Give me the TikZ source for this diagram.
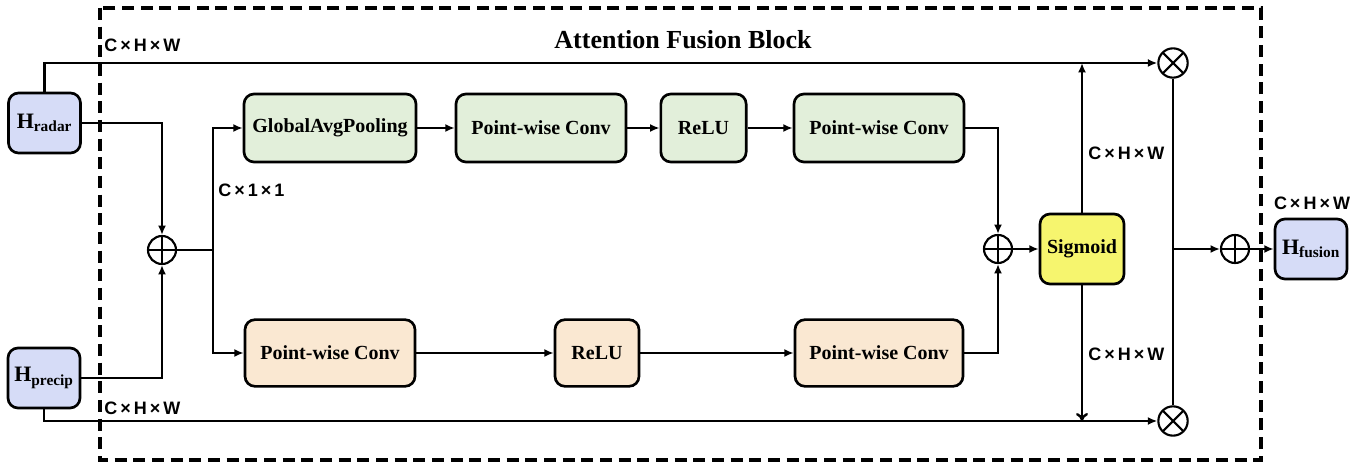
\documentclass[tikz,border=0pt]{standalone}
\usepackage{fontspec}
\setmainfont{Liberation Serif}
\setsansfont{Liberation Sans}
\usetikzlibrary{arrows.meta}
\definecolor{featblue}{RGB}{214,220,247}
\definecolor{gapgreen}{RGB}{226,239,218}
\definecolor{convpeach}{RGB}{250,232,210}
\definecolor{sigyellow}{RGB}{246,245,110}
\tikzset{
  blk/.style={draw, line width=2pt, rounded corners=7.5pt, inner sep=0pt,
    font=\fontsize{15}{18}\selectfont\bfseries},
  feat/.style={blk, fill=featblue, minimum width=54pt, minimum height=45pt,
    font=\fontsize{16.5}{18}\selectfont\bfseries},
  gapbox/.style={blk, fill=gapgreen, minimum height=51pt},
  convbox/.style={blk, fill=convpeach, minimum height=50pt},
  opsum/.style={circle, draw, line width=1.6pt, minimum size=21pt, inner sep=0pt,
    path picture={\draw[line width=1.6pt] (path picture bounding box.north) -- (path picture bounding box.south)
      (path picture bounding box.west) -- (path picture bounding box.east);}},
  opmul/.style={circle, draw, line width=1.6pt, minimum size=22pt, inner sep=0pt,
    path picture={\draw[line width=1.6pt] (path picture bounding box.north west) -- (path picture bounding box.south east)
      (path picture bounding box.north east) -- (path picture bounding box.south west);}},
  dim/.style={font=\sffamily\bfseries\fontsize{13.5}{15}\selectfont, inner sep=0pt, anchor=west},
  wire/.style={line width=1.8pt},
  conn/.style={wire, -{Latex[length=7pt,width=6pt]}},
}
\begin{document}
\begin{tikzpicture}[x=0.75pt, y=-0.75pt]
\useasboundingbox (0,0) rectangle (1362,466);
\draw[line width=3pt, dash pattern=on 9pt off 5pt] (100,8) rectangle (1261,460);
\node[font=\fontsize{19.5}{22}\selectfont\bfseries] (title) at (683,40) {Attention Fusion Block};

% inputs and output
\node[feat] (radar) at (44.5,123) {H\textsubscript{radar}};
\node[feat] (precip) at (44,378) {H\textsubscript{precip}};
\node[feat] (fusion) at (1311,249) {H\textsubscript{fusion}};

% upper branch
\node[opsum] (sum1) at (162,250) {};
\node[gapbox, minimum width=129pt] (gap) at (330,128) {GlobalAvgPooling};
\node[gapbox, minimum width=127.5pt] (pw1) at (541,128) {Point-wise Conv};
\node[gapbox, minimum width=64pt] (relu1) at (703.5,128) {ReLU};
\node[gapbox, minimum width=127.5pt] (pw2) at (879,128) {Point-wise Conv};

% lower branch
\node[convbox, minimum width=127.5pt] (pw3) at (330,353) {Point-wise Conv};
\node[convbox, minimum width=63pt] (relu2) at (597,353) {ReLU};
\node[convbox, minimum width=126pt] (pw4) at (879,353) {Point-wise Conv};

\node[opsum] (sum2) at (998,249) {};
\node[blk, fill=sigyellow, minimum width=63pt, minimum height=52.5pt] (sig) at (1082,249) {Sigmoid};
\node[opmul] (mul1) at (1173,63) {};
\node[opmul] (mul2) at (1173,421) {};
\node[opsum] (sum3) at (1235,249) {};

\coordinate (split) at (213,250);

\draw[conn] (radar.north) |- (mul1.west);
\draw[conn] (precip.south) |- (mul2.west);
\draw[conn] (radar.east) -| (sum1.north);
\draw[conn] (precip.east) -| (sum1.south);
\draw[wire] (sum1.east) -- (split);
\draw[conn] (split) |- (gap.west);
\draw[conn] (split) |- (pw3.west);
\draw[conn] (gap) -- (pw1);
\draw[conn] (pw1) -- (relu1);
\draw[conn] (relu1) -- (pw2);
\draw[conn] (pw3) -- (relu2);
\draw[conn] (relu2) -- (pw4);
\draw[conn] (pw2.east) -| (sum2.north);
\draw[conn] (pw4.east) -| (sum2.south);
\draw[conn] (sum2) -- (sig);
\draw[conn] (sig.north) -- (sig.north |- mul1);
\draw[wire, -{To[length=6pt,width=9pt]}] (sig.south) -- (sig.south |- mul2);
\draw[wire] (mul1.south) -- (mul2.north);
\draw[conn] (mul1.south |- sum3) -- (sum3.west);
\draw[conn] (sum3) -- (fusion);

% sizes
\node[dim] (dimradar) at (104,45) {C\,×\,H\,×\,W};
\node[dim] (dimprecip) at (104,408) {C\,×\,H\,×\,W};
\node[dim] (dimpool) at (218,190) {C\,×\,1\,×\,1};
\node[dim] (dimup) at (1088,153) {C\,×\,H\,×\,W};
\node[dim] (dimdown) at (1088,354) {C\,×\,H\,×\,W};
\node[dim, anchor=center] (dimfusion) at (1312,203) {C\,×\,H\,×\,W};
\end{tikzpicture}
\end{document}
